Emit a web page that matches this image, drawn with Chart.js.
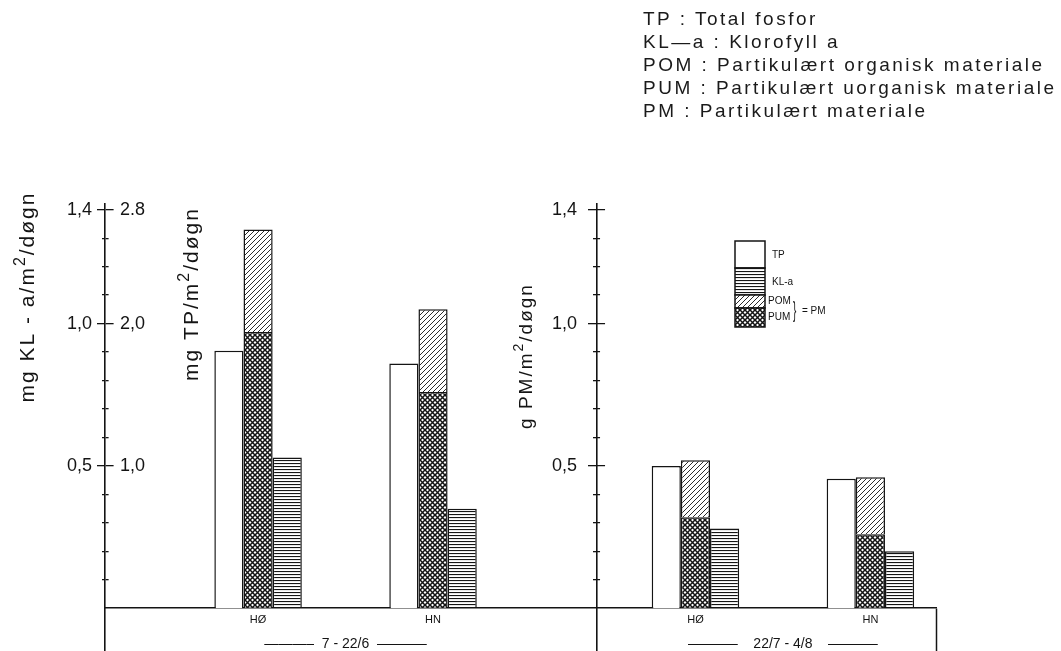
<!DOCTYPE html>
<html>
<head>
<meta charset="utf-8">
<script src="https://cdn.jsdelivr.net/npm/chart.js"></script>
<style>
  html, body { margin: 0; padding: 0; background: #fff; overflow: hidden; }
  #wrap { position: relative; width: 1061px; height: 651px; }
  #chart-box { position: absolute; left: 0; top: 0; width: 1061px; height: 651px; }
  #notes {
    position: absolute; left: 643px; top: 7px;
    font-family: 'Liberation Sans', Arial, sans-serif;
    font-size: 19px; letter-spacing: 2.5px; line-height: 23px;
    color: #1a1a1a; white-space: nowrap;
  }
</style>
</head>
<body>
<div id="wrap">
  <div id="chart-box"><canvas id="sedChart"></canvas></div>
  <div id="notes"></div>
</div>
<script>
// --- Data ---
// slots along the baseline; blank slots are just spacing
const periodLeft = ['', '\u2014\u2014\u2014\u2013  7 - 22/6  \u2014\u2014\u2014\u2013'];
const periodRight = ['', '\u2014\u2014\u2014\u2013    22/7 - 4/8    \u2014\u2014\u2014\u2013'];
const xLabels = ['', '', '', 'HØ', '', periodLeft, '', 'HN', '', '', '', '', '', 'HØ', '', periodRight, '', 'HN', ''];
const stations = ['HØ', 'HN'];

// per station, in order: HØ, HN (7-22/6), HØ, HN (22/7-4/8)
const tpValues  = [1.81, 1.72, 1.00, 0.91];   // mg TP/m2/døgn
const pumValues = [0.97, 0.76, 0.32, 0.26];   // g PM/m2/døgn
const pomValues = [0.36, 0.29, 0.20, 0.20];   // g PM/m2/døgn
const klValues  = [0.53, 0.35, 0.28, 0.20];   // mg KL-a/m2/døgn

// tick labels
const klTicks = [0.5, 1.0, 1.4];
const klTickLabels = ['0,5', '1,0', '1,4'];
const tpTicks = [1.0, 2.0, 2.8];
const tpTickLabels = ['1,0', '2,0', '2.8'];
const pmTicks = [0.5, 1.0, 1.4];
const pmTickLabels = ['0,5', '1,0', '1,4'];

const notes = [
  'TP : Total fosfor',
  'KL\u2014a : Klorofyll a',
  'POM : Partikulært organisk materiale',
  'PUM : Partikulært uorganisk materiale',
  'PM : Partikulært materiale'
];

// --- Style ---
const INK = '#141414';
const FONT = "'Liberation Sans', Arial, sans-serif";
const PM_AXIS_AT = 10.75;   // where the g PM axis stands on the slot scale
const PM_LABEL_GAP = '\u00a0\u00a0\u00a0\u00a0';

Chart.defaults.font.family = FONT;
Chart.defaults.color = INK;

document.getElementById('notes').innerHTML = notes.map(n => `<div>${n}</div>`).join('');

// slot index of each station bar group
const stationSlots = xLabels.map((l, i) => stations.includes(l) ? i : -1).filter(i => i >= 0);
function toSlots(values) {
  const arr = xLabels.map(() => null);
  stationSlots.forEach((s, k) => { arr[s] = values[k]; });
  return arr;
}

function labelFor(v, vals, labels) {
  const k = vals.findIndex(t => Math.abs(t - v) < 1e-6);
  return k >= 0 ? labels[k] : '';
}
const isMajor = (v, vals) => vals.some(t => Math.abs(t - v) < 1e-6);
const isZero = v => Math.abs(v) < 1e-6;
const dropNegative = s => { s.ticks = s.ticks.filter(t => t.value > -1e-6); };
// labels must not push the plot area in
const noOverflow = s => { s.paddingTop = 0; s.paddingBottom = 0; s.paddingLeft = 0; s.paddingRight = 0; };

// fill patterns like the printed figure
function makePattern(kind) {
  const c = document.createElement('canvas');
  const size = kind === 'lines' ? 3 : 5;
  c.width = kind === 'lines' ? 6 : size;
  c.height = size;
  const g = c.getContext('2d');
  g.fillStyle = '#fff';
  g.fillRect(0, 0, c.width, c.height);
  g.strokeStyle = INK;
  g.fillStyle = INK;
  if (kind === 'lines') {
    g.fillRect(0, 1, c.width, 1.1);
  } else if (kind === 'hatch') {
    g.lineWidth = 0.9;
    g.beginPath();
    g.moveTo(-1, size + 1); g.lineTo(size + 1, -1);
    g.moveTo(-1, 1); g.lineTo(1, -1);
    g.moveTo(size - 1, size + 1); g.lineTo(size + 1, size - 1);
    g.stroke();
  } else {
    g.lineWidth = 1.5;
    g.beginPath();
    g.moveTo(-1, size + 1); g.lineTo(size + 1, -1);
    g.moveTo(-1, -1); g.lineTo(size + 1, size + 1);
    g.stroke();
  }
  return g.createPattern(c, 'repeat');
}

const stripeFill = makePattern('lines');
const hatchFill = makePattern('hatch');
const crossFill = makePattern('cross');

const barCommon = {
  borderColor: INK,
  borderWidth: 1.5,
  categoryPercentage: 2,
  barPercentage: 1
};

// rotated axis titles with a raised "2"
const axisTitles = [
  { parts: ['mg KL - a/m', '2', '/døgn'], x: 34, y: 297, size: 21 },
  { parts: ['mg TP/m', '2', '/døgn'], x: 198, y: 294, size: 21 },
  { parts: ['g PM/m', '2', '/døgn'], x: 532, y: 356, size: 19 }
];

const titlesPlugin = {
  id: 'axisTitles',
  afterDraw(chart) {
    const ctx = chart.ctx;
    axisTitles.forEach(t => {
      ctx.save();
      ctx.translate(t.x, t.y);
      ctx.rotate(-Math.PI / 2);
      ctx.fillStyle = INK;
      ctx.textBaseline = 'alphabetic';
      ctx.letterSpacing = '2px';
      const fonts = t.parts.map((p, i) => `${i === 1 ? Math.round(t.size * 0.75) : t.size}px ${FONT}`);
      const widths = t.parts.map((p, i) => { ctx.font = fonts[i]; return ctx.measureText(p).width; });
      let cx = -widths.reduce((a, b) => a + b, 0) / 2;
      t.parts.forEach((p, i) => {
        ctx.font = fonts[i];
        ctx.fillText(p, cx, i === 1 ? -t.size * 0.45 : 0);
        cx += widths[i];
      });
      ctx.restore();
    });
  }
};

// small pattern key inside the right panel
const keyPlugin = {
  id: 'patternKey',
  afterDraw(chart) {
    const ctx = chart.ctx;
    const byLabel = {};
    chart.data.datasets.forEach(d => { byLabel[d.label] = d; });
    const rows = [['TP', 27], ['KL-a', 27], ['POM', 13], ['PUM', 19]];
    const x0 = 735, w = 30;
    let y = 241;
    ctx.save();
    ctx.lineWidth = 1.5;
    ctx.strokeStyle = INK;
    ctx.font = `10px ${FONT}`;
    ctx.textBaseline = 'middle';
    rows.forEach(([name, h]) => {
      ctx.fillStyle = byLabel[name].backgroundColor;
      ctx.fillRect(x0, y, w, h);
      ctx.strokeRect(x0, y, w, h);
      ctx.fillStyle = INK;
      const small = name === 'POM' || name === 'PUM';
      ctx.fillText(name, small ? x0 + w + 3 : x0 + w + 7, small ? y + h / 2 : y + h / 2 + 1);
      y += h;
    });
    ctx.font = `22px ${FONT}`;
    ctx.save();
    ctx.translate(793, 311);
    ctx.scale(0.45, 1);
    ctx.fillText('}', 0, 0);
    ctx.restore();
    ctx.font = `10px ${FONT}`;
    ctx.fillText('= PM', 802, 311);
    ctx.restore();
  }
};

new Chart(document.getElementById('sedChart'), {
  type: 'bar',
  data: {
    labels: xLabels,
    datasets: [
      { ...barCommon, label: 'TP', data: toSlots(tpValues), yAxisID: 'yTP', stack: 'tp', backgroundColor: '#ffffff' },
      { ...barCommon, label: 'PUM', data: toSlots(pumValues), yAxisID: 'yPM', stack: 'pm', backgroundColor: crossFill },
      { ...barCommon, label: 'POM', data: toSlots(pomValues), yAxisID: 'yPM', stack: 'pm', backgroundColor: hatchFill },
      { ...barCommon, label: 'KL-a', data: toSlots(klValues), yAxisID: 'y', stack: 'kl', backgroundColor: stripeFill }
    ]
  },
  options: {
    responsive: true,
    maintainAspectRatio: false,
    animation: false,
    events: [],
    layout: { padding: { top: 204, right: 125, bottom: 0, left: 0 } },
    plugins: {
      legend: { display: false },
      tooltip: { enabled: false }
    },
    scales: {
      x: {
        type: 'category',
        position: { y: 0 },
        offset: true,
        afterFit: s => { s.height = 0; noOverflow(s); },
        border: { color: INK, width: 1.6 },
        grid: {
          offset: true,
          drawOnChartArea: false,
          tickLength: 45,
          tickWidth: 1.5,
          tickColor: ctx => ctx.type === 'scale' ? INK : 'transparent'
        },
        ticks: {
          autoSkip: false,
          maxRotation: 0,
          minRotation: 0,
          padding: -40,
          color: INK,
          font: ctx => Array.isArray(xLabels[ctx.index]) ? { size: 14, lineHeight: 1.45 } : { size: 11 }
        }
      },
      y: {
        position: 'left',
        weight: 2,
        min: -0.15,
        max: 1.42,
        afterFit: s => { s.width = 105; noOverflow(s); },
        afterBuildTicks: dropNegative,
        border: {
          color: INK,
          width: 1.6,
          dash: ctx => ctx.tick && isMajor(ctx.tick.value, klTicks) ? [8, 3000] : [3, 3000]
        },
        grid: {
          drawOnChartArea: true,
          tickLength: 8,
          lineWidth: 1.3,
          tickWidth: 1.3,
          color: ctx => ctx.tick && !isZero(ctx.tick.value) ? INK : 'transparent',
          tickColor: ctx => ctx.tick && !isZero(ctx.tick.value) ? INK : 'transparent',
          tickBorderDash: ctx => ctx.tick && isMajor(ctx.tick.value, klTicks) ? [] : [0, 5, 3, 100]
        },
        ticks: {
          stepSize: 0.1,
          maxTicksLimit: 20,
          includeBounds: false,
          padding: 5,
          color: INK,
          font: { size: 18 },
          callback: v => labelFor(v, klTicks, klTickLabels)
        }
      },
      yTP: {
        position: 'left',
        weight: 1,
        min: -0.3,
        max: 2.84,
        afterFit: s => { s.width = 0; noOverflow(s); },
        afterBuildTicks: dropNegative,
        border: { display: false },
        grid: { display: false },
        ticks: {
          mirror: true,
          padding: 15,
          stepSize: 0.2,
          maxTicksLimit: 20,
          includeBounds: false,
          color: INK,
          font: { size: 18 },
          callback: v => labelFor(v, tpTicks, tpTickLabels)
        }
      },
      yPM: {
        position: { x: PM_AXIS_AT },
        stacked: true,
        min: -0.15,
        max: 1.42,
        afterFit: noOverflow,
        afterBuildTicks: dropNegative,
        border: {
          color: INK,
          width: 1.6,
          dash: ctx => {
            const gap = ctx.chart.scales.x.getPixelForValue(PM_AXIS_AT) - ctx.chart.chartArea.left;
            const len = ctx.tick && isMajor(ctx.tick.value, pmTicks) ? 8 : 3;
            return [0, gap, len, 3000];
          }
        },
        grid: {
          drawOnChartArea: true,
          tickLength: 8,
          lineWidth: 1.3,
          tickWidth: 1.3,
          color: ctx => ctx.tick && !isZero(ctx.tick.value) ? INK : 'transparent',
          tickColor: ctx => ctx.tick && !isZero(ctx.tick.value) ? INK : 'transparent',
          tickBorderDash: ctx => ctx.tick && isMajor(ctx.tick.value, pmTicks) ? [] : [3, 100]
        },
        ticks: {
          stepSize: 0.1,
          maxTicksLimit: 20,
          includeBounds: false,
          padding: 10,
          color: INK,
          font: { size: 18 },
          callback: v => {
            const l = labelFor(v, pmTicks, pmTickLabels);
            return l ? l + PM_LABEL_GAP : '';
          }
        }
      }
    }
  },
  plugins: [titlesPlugin, keyPlugin]
});
</script>
</body>
</html>
